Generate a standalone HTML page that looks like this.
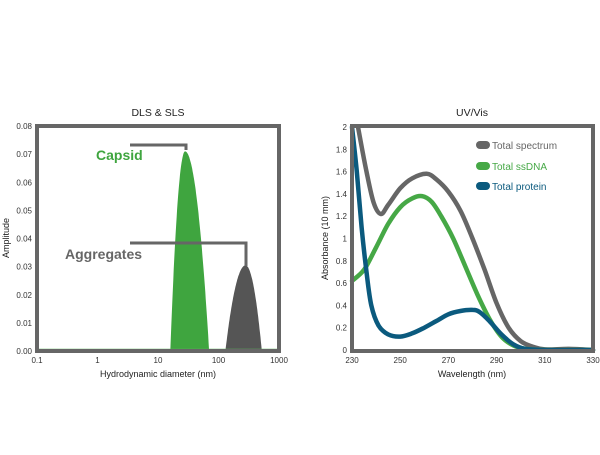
<!DOCTYPE html>
<html><head><meta charset="utf-8"><style>
body{margin:0;background:#fff;width:600px;height:450px;overflow:hidden}
svg{font-family:"Liberation Sans",sans-serif}
</style></head><body>
<svg id="s" width="600" height="450" xmlns="http://www.w3.org/2000/svg">
<text x="158" y="116" font-size="10.5" text-anchor="middle" fill="#222">DLS &amp; SLS</text>
<text x="472" y="116" font-size="10.5" text-anchor="middle" fill="#222">UV/Vis</text>
<g id="L"></g><g id="R"></g>
<text x="158" y="377" font-size="9" text-anchor="middle" fill="#222">Hydrodynamic diameter (nm)</text>
<text x="472" y="377" font-size="9" text-anchor="middle" fill="#222">Wavelength (nm)</text>
<text transform="translate(9,238) rotate(-90)" font-size="9" text-anchor="middle" fill="#222">Amplitude</text>
<text transform="translate(328,238) rotate(-90)" font-size="9" text-anchor="middle" fill="#222">Absorbance (10 mm)</text>
<text x="96" y="160" font-size="14" font-weight="bold" fill="#3fa53f">Capsid</text>
<text x="65" y="259" font-size="14" font-weight="bold" fill="#666">Aggregates</text>
<polyline points="130,145 186,145 186,150" fill="none" stroke="#666" stroke-width="3"/>
<polyline points="130,243 246,243 246,266" fill="none" stroke="#666" stroke-width="3"/>
<rect x="476" y="141" width="14" height="8" rx="4" fill="#666"/>
<text x="492" y="149" font-size="10" fill="#666">Total spectrum</text>
<rect x="476" y="162" width="14" height="8" rx="4" fill="#46a846"/>
<text x="492" y="170" font-size="10" fill="#46a846">Total ssDNA</text>
<rect x="476" y="182" width="14" height="8" rx="4" fill="#0b5a7e"/>
<text x="492" y="190" font-size="10" fill="#0b5a7e">Total protein</text>
</svg>
<script>
const NS="http://www.w3.org/2000/svg";
function el(p,t,a,txt){const e=document.createElementNS(NS,t);for(const k in a)e.setAttribute(k,a[k]);if(txt!==undefined)e.textContent=txt;p.appendChild(e);return e;}
const L=document.getElementById('L'),R=document.getElementById('R');
const lx=d=>37+60.5*(Math.log10(d)+1), ly=v=>351-v*2812;
function peak(c,h,a,b,col){const lc=Math.log10(c),la=Math.log10(a),lb=Math.log10(b);let d="M"+lx(a).toFixed(1)+","+ly(0);for(let i=0;i<=80;i++){const x=la+(lb-la)*i/80;const t=x<lc?(lc-x)/(lc-la):(x-lc)/(lb-lc);const v=Math.max(0,h*(1-t*t));d+=" L"+lx(Math.pow(10,x)).toFixed(1)+","+ly(v).toFixed(1);}d+=" Z";el(L,'path',{d:d,fill:col});}
peak(28,0.071,16,70,"#3fa53f");
peak(280,0.0305,130,520,"#555");
el(L,'line',{x1:37,y1:349.5,x2:279,y2:349.5,stroke:"#5cb85c","stroke-width":1.5});
el(L,'rect',{x:37,y:126,width:242,height:225,fill:"none",stroke:"#666","stroke-width":4});
[0,1,2,3,4,5,6,7,8].forEach(i=>{const y=ly(i/100);el(L,'text',{x:32,y:y+3,"font-size":8,"text-anchor":"end",fill:"#333"},"0.0"+i);});
["0.1","1","10","100","1000"].forEach((t,i)=>el(L,'text',{x:37+60.5*i,y:363,"font-size":8,"text-anchor":"middle",fill:"#333"},t));
const rx=w=>352+(w-230)*2.41, ry=v=>350-v*111.5;
function curve(pts,col){const P=pts.map(p=>[rx(p[0]),ry(p[1])]);let d="M"+P[0][0].toFixed(1)+","+P[0][1].toFixed(1);for(let i=0;i<P.length-1;i++){const p0=P[i-1]||P[i],p1=P[i],p2=P[i+1],p3=P[i+2]||p2;const c1=[p1[0]+(p2[0]-p0[0])/6,p1[1]+(p2[1]-p0[1])/6],c2=[p2[0]-(p3[0]-p1[0])/6,p2[1]-(p3[1]-p1[1])/6];d+=` C${c1[0].toFixed(1)},${c1[1].toFixed(1)} ${c2[0].toFixed(1)},${c2[1].toFixed(1)} ${p2[0].toFixed(1)},${p2[1].toFixed(1)}`;}el(R,'path',{d:d,fill:"none",stroke:col,"stroke-width":4.5,"stroke-linejoin":"round","stroke-linecap":"round"});}
curve([[232.5,2],[236,1.6],[239,1.32],[242,1.22],[245,1.3],[250,1.45],[255,1.54],[261,1.58],[265,1.53],[270,1.42],[275,1.25],[280,1.0],[285,0.72],[290,0.42],[295,0.2],[300,0.08],[305,0.03],[310,0.005],[320,0.01],[330,0]],"#666");
curve([[230,0.62],[235,0.72],[240,0.92],[245,1.13],[250,1.28],[255,1.36],[259,1.38],[263,1.33],[267,1.2],[272,1.0],[277,0.75],[282,0.5],[287,0.28],[292,0.12],[297,0.04],[302,0.01],[310,0],[330,0]],"#46a846");
curve([[230,2.0],[232,1.6],[234,1.1],[236,0.7],[238,0.4],[241,0.22],[245,0.14],[250,0.12],[255,0.15],[260,0.2],[265,0.26],[270,0.32],[275,0.35],[280,0.36],[283,0.34],[287,0.26],[292,0.14],[297,0.05],[302,0.01],[310,0],[330,0]],"#0b5a7e");
el(R,'rect',{x:352,y:126,width:241,height:225,fill:"none",stroke:"#666","stroke-width":4});
["0","0.2","0.4","0.6","0.8","1","1.2","1.4","1.6","1.8","2"].forEach((t,i)=>el(R,'text',{x:347,y:ry(i*0.2)+3,"font-size":8,"text-anchor":"end",fill:"#333"},t));
[230,250,270,290,310,330].forEach(w=>el(R,'text',{x:rx(w),y:363,"font-size":8,"text-anchor":"middle",fill:"#333"},w));
</script>
</body></html>
